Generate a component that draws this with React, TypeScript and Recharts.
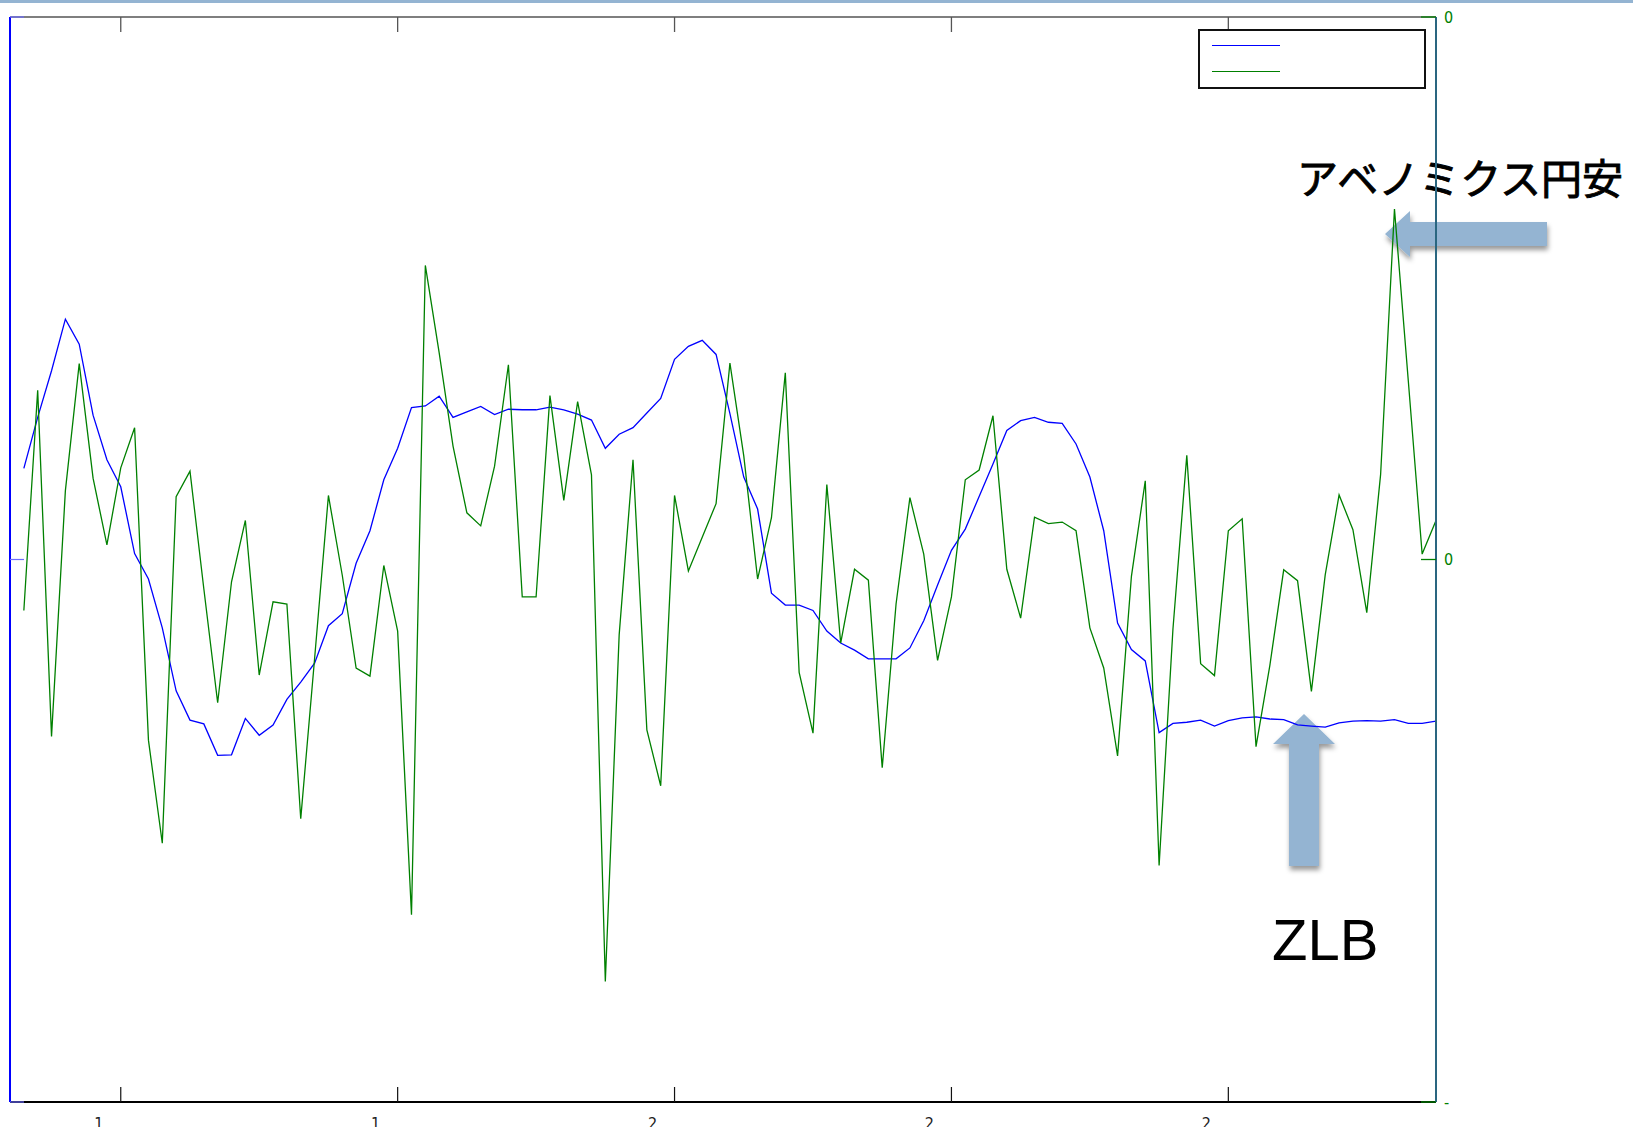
import React from "react";
import { LineChart, Line, XAxis, YAxis, Legend } from "recharts";

const W = 1633;
const H = 1127;
const PLOT = { left: 10, right: 1436, top: 17, bottom: 1102 };

// quarterly series, index 0..102 (ticks every 5 years)
const rateGap = [
  1.68, 2.62, 3.48, 4.43, 3.97, 2.66, 1.84, 1.34, 0.11, -0.36,
  -1.26, -2.42, -2.96, -3.03, -3.61, -3.6, -2.93, -3.24, -3.05, -2.58,
  -2.26, -1.91, -1.22, -1.0, -0.07, 0.53, 1.47, 2.05, 2.8, 2.83,
  3.01, 2.62, 2.72, 2.82, 2.67, 2.77, 2.76, 2.76, 2.81, 2.76,
  2.68, 2.57, 2.05, 2.31, 2.43, 2.7, 2.97, 3.69, 3.93, 4.04,
  3.78, 2.69, 1.52, 0.93, -0.62, -0.84, -0.84, -0.94, -1.32, -1.54,
  -1.67, -1.83, -1.83, -1.83, -1.63, -1.13, -0.47, 0.17, 0.56, 1.16,
  1.76, 2.38, 2.56, 2.62, 2.53, 2.51, 2.13, 1.52, 0.53, -1.17,
  -1.66, -1.87, -3.19, -3.02, -3.0, -2.96, -3.07, -2.97, -2.92, -2.9,
  -2.94, -2.95, -3.05, -3.07, -3.09, -3.01, -2.98, -2.97, -2.98, -2.95,
  -3.02, -3.02, -2.98,
];

const fxGap = [
  -0.94, 3.12, -3.26, 1.27, 3.61, 1.5, 0.27, 1.69, 2.43, -3.33,
  -5.23, 1.16, 1.63, -0.54, -2.64, -0.41, 0.72, -2.13, -0.78, -0.82,
  -4.78, -1.83, 1.18, -0.29, -2.0, -2.15, -0.11, -1.32, -6.55, 5.42,
  3.81, 2.09, 0.86, 0.62, 1.72, 3.59, -0.69, -0.69, 3.02, 1.09,
  2.91, 1.56, -7.78, -1.39, 1.84, -3.14, -4.17, 1.18, -0.21, 0.41,
  1.03, 3.62, 1.91, -0.36, 0.77, 3.44, -2.08, -3.2, 1.38, -1.54,
  -0.18, -0.38, -3.84, -0.82, 1.14, 0.1, -1.86, -0.69, 1.47, 1.65,
  2.65, -0.18, -1.08, 0.78, 0.66, 0.69, 0.53, -1.26, -2.0, -3.62,
  -0.31, 1.45, -5.64, -1.28, 1.92, -1.92, -2.14, 0.53, 0.75, -3.45,
  -1.95, -0.19, -0.39, -2.43, -0.28, 1.19, 0.55, -0.98, 1.57, 6.46,
  3.29, 0.1, 0.72,
];

const xTicks = [7, 27, 47, 67, 87];
const xTickLabels = ["1", "1", "2", "2", "2"];
const yTicks = [10, 0, -10];
const rightTickLabels = ["0", "0", "-"];
const legendOrder = ["rate", "fx"];

const data = fxGap.map((fx, i) => ({ t: i, rate: rateGap[i], fx }));

const GREEN = "#008000";
const BLUE = "#0000ff";
const ARROW = "#94b4d2";
const narrow = "'Liberation Sans Narrow', 'DejaVu Sans Condensed', 'Liberation Sans', sans-serif";

function BottomTick(props: any) {
  const { x, payload } = props;
  const label = xTickLabels[xTicks.indexOf(payload.value)];
  return (
    <g>
      <line x1={x} x2={x} y1={PLOT.bottom} y2={PLOT.bottom - 15} stroke="#111" strokeWidth={1.2} />
      <text x={x - 22} y={1129} textAnchor="middle" fontSize={16} fill="#222" fontFamily={narrow}>
        {label}
      </text>
    </g>
  );
}

function TopTick(props: any) {
  const { x } = props;
  return <line x1={x} x2={x} y1={PLOT.top} y2={PLOT.top + 15} stroke="#555" strokeWidth={1.3} />;
}

function LeftTick(props: any) {
  const { y } = props;
  return <line x1={PLOT.left} x2={PLOT.left + 14} y1={y} y2={y} stroke="#6c6cff" strokeWidth={1.2} />;
}

function RightTick(props: any) {
  const { y, payload } = props;
  const label = rightTickLabels[yTicks.indexOf(payload.value)];
  return (
    <g>
      <line x1={PLOT.right} x2={PLOT.right - 15} y1={y} y2={y} stroke={GREEN} strokeWidth={1.3} />
      <text x={PLOT.right + 8} y={y} dominantBaseline="central" fontSize={16} fill={GREEN} fontFamily={narrow}>
        {label}
      </text>
    </g>
  );
}

function LegendBox({ payload }: any) {
  const entries = [...(payload || [])].sort(
    (a: any, b: any) => legendOrder.indexOf(a.dataKey) - legendOrder.indexOf(b.dataKey)
  );
  return (
    <div
      style={{
        boxSizing: "border-box",
        width: 228,
        height: 60,
        border: "2px solid #111",
        background: "#fff",
        position: "relative",
      }}
    >
      {entries.map((entry: any, i: number) => (
        <div
          key={i}
          style={{
            position: "absolute",
            left: 12,
            top: 14 + i * 26,
            width: 68,
            height: 0,
            borderTop: `1.3px solid ${entry.color}`,
          }}
        />
      ))}
    </div>
  );
}

export default function App() {
  return (
    <div style={{ position: "absolute", left: 0, top: 0, width: W, height: H, overflow: "hidden", background: "#fff" }}>
      <svg width={W} height={H} style={{ position: "absolute", left: 0, top: 0 }}>
        <defs>
          <filter id="shadow" x="-30%" y="-30%" width="160%" height="160%">
            <feDropShadow dx="1" dy="4" stdDeviation="2.5" floodColor="#000" floodOpacity="0.4" />
          </filter>
        </defs>
        <rect x={0} y={0} width={W} height={3} fill={ARROW} />
        <polygon
          points="1385,234 1410,211 1410,222 1547,222 1547,246 1410,246 1410,257"
          fill={ARROW}
          filter="url(#shadow)"
        />
        <polygon
          points="1304,714 1335,744 1319,744 1319,866 1289,866 1289,744 1273,744"
          fill={ARROW}
          filter="url(#shadow)"
        />
        <text
          x={1297}
          y={194}
          fontSize={41}
          fill="#000"
          stroke="#000"
          strokeWidth={0.9}
          fontFamily="'Noto Sans CJK JP', sans-serif"
        >
          アベノミクス円安
        </text>
        <text x={1272} y={960} fontSize={58} fill="#000" fontFamily="'Liberation Sans', Arial, sans-serif">
          ZLB
        </text>
      </svg>
      <div style={{ position: "absolute", left: 0, top: 0 }}>
        <LineChart width={W} height={H} data={data} margin={{ top: 0, right: 0, bottom: 0, left: 0 }}>
          <XAxis
            xAxisId="top"
            orientation="top"
            type="number"
            dataKey="t"
            domain={[-1, 102]}
            allowDataOverflow
            ticks={xTicks}
            height={17}
            tickLine={false}
            tick={<TopTick />}
            axisLine={{ stroke: "#555", strokeWidth: 1.5 }}
          />
          <XAxis
            type="number"
            dataKey="t"
            domain={[-1, 102]}
            allowDataOverflow
            ticks={xTicks}
            height={25}
            tickLine={false}
            tick={<BottomTick />}
            axisLine={{ stroke: "#000", strokeWidth: 2 }}
          />
          <YAxis
            yAxisId="left"
            domain={[-10, 10]}
            ticks={yTicks}
            width={10}
            tickLine={false}
            tick={<LeftTick />}
            axisLine={{ stroke: BLUE, strokeWidth: 2 }}
          />
          <YAxis
            yAxisId="right"
            orientation="right"
            domain={[-10, 10]}
            ticks={yTicks}
            width={197}
            tickLine={false}
            tick={<RightTick />}
            axisLine={{ stroke: "#2a6680", strokeWidth: 2 }}
          />
          <Legend
            layout="vertical"
            align="center"
            verticalAlign="middle"
            wrapperStyle={{ left: 1198, top: 29, width: 228, height: 60 }}
            content={<LegendBox />}
          />
          <Line
            yAxisId="left"
            type="linear"
            dataKey="rate"
            name="rate"
            stroke={BLUE}
            strokeWidth={1.3}
            dot={false}
            isAnimationActive={false}
          />
          <Line
            yAxisId="right"
            type="linear"
            dataKey="fx"
            name="fx"
            stroke={GREEN}
            strokeWidth={1.3}
            dot={false}
            isAnimationActive={false}
          />
        </LineChart>
      </div>
    </div>
  );
}
